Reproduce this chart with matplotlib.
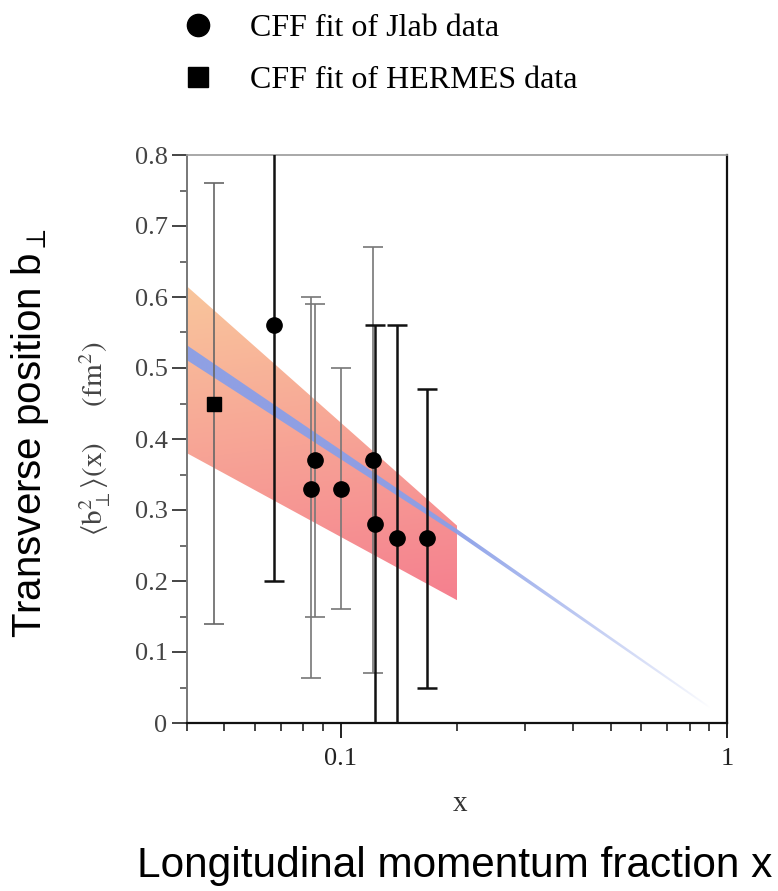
import numpy as np
import matplotlib
matplotlib.use('Agg')
import matplotlib.pyplot as plt
from matplotlib.lines import Line2D
from matplotlib.patches import Polygon
from matplotlib.colors import to_rgb
from matplotlib.ticker import MultipleLocator, FuncFormatter, LogLocator, NullFormatter, FixedLocator

# ---------------- data ----------------
jlab_x = [0.067, 0.084, 0.086, 0.100, 0.121, 0.123, 0.140, 0.167]
jlab_y = [0.56, 0.33, 0.37, 0.33, 0.37, 0.28, 0.26, 0.26]
jlab_lo = [0.20, 0.063, 0.15, 0.16, 0.07, -0.05, -0.05, 0.05]
jlab_hi = [0.85, 0.60, 0.59, 0.50, 0.67, 0.56, 0.56, 0.47]
jlab_dark = [True, False, False, False, False, True, True, True]

hermes_x = [0.047]
hermes_y = [0.45]
hermes_lo = [0.14]
hermes_hi = [0.76]

band_x = [0.04, 0.20]
band_lo = [0.38, 0.173]
band_hi = [0.615, 0.278]

fit_x = [0.04, 0.20, 0.90]
fit_lo = [0.511, 0.266, 0.021]
fit_hi = [0.532, 0.273, 0.024]

y_ticks = [0, 0.1, 0.2, 0.3, 0.4, 0.5, 0.6, 0.7, 0.8]
x_ticks = [0.1, 1]
x_ticklabels = ['0.1', '1']

legend_labels = ['CFF fit of Jlab data', 'CFF fit of HERMES data']

# ---------------- style ----------------
plt.rcParams['mathtext.fontset'] = 'stix'
SERIF = ['Liberation Serif', 'DejaVu Serif']
SANS = ['Liberation Sans', 'DejaVu Sans']

W, H = 778, 891
fig = plt.figure(figsize=(W / 100, H / 100), dpi=100)
L, R, T, B = 187, 727, 155, 723
ax = fig.add_axes([L / W, 1 - B / H, (R - L) / W, (B - T) / H])

ax.set_xscale('log')
ax.set_xlim(0.04, 1.0)
ax.set_ylim(0, 0.8)
ax.set_autoscale_on(False)

# ---------- orange/pink uncertainty band (gradient) ----------
verts = [(band_x[0], band_lo[0]), (band_x[1], band_lo[1]),
         (band_x[1], band_hi[1]), (band_x[0], band_hi[0])]
band_poly = Polygon(verts, closed=True, facecolor='none', edgecolor='none',
                    transform=ax.transData)
ax.add_patch(band_poly)
ny, nx = 300, 300
yy, xx = np.mgrid[0:1:ny * 1j, 0:1:nx * 1j]
c_top = np.array(to_rgb('#F9C69C'))
c_bot = np.array(to_rgb('#F5808F'))
t = np.clip((0.77 - yy) / 0.55 * 0.9 + xx * 0.2, 0, 1)[..., None]
rgb = c_top * (1 - t) + c_bot * t
img = np.concatenate([rgb, np.ones((ny, nx, 1))], axis=2)
im = ax.imshow(img, extent=[0, 1, 0, 1], transform=ax.transAxes, origin='lower',
               aspect='auto', interpolation='bilinear', zorder=1)
im.set_clip_path(band_poly)

# ---------- blue fit band with fading ----------
fverts = [(x, y) for x, y in zip(fit_x, fit_lo)] + [(x, y) for x, y in zip(fit_x[::-1], fit_hi[::-1])]
fit_poly = Polygon(fverts, closed=True, facecolor='none', edgecolor='none',
                   transform=ax.transData)
ax.add_patch(fit_poly)
c_blue = np.array(to_rgb('#8A9FE8'))
xf = np.linspace(0, 1, 600)
alpha = np.clip(1 - (xf - 0.5) / 0.47, 0, 1) ** 0.8 * 0.95
bimg = np.zeros((2, 600, 4))
bimg[..., :3] = c_blue
bimg[..., 3] = alpha[None, :]
bim = ax.imshow(bimg, extent=[0, 1, 0, 1], transform=ax.transAxes, origin='lower',
                aspect='auto', interpolation='bilinear', zorder=2)
bim.set_clip_path(fit_poly)

ax.set_xlim(0.04, 1.0)
ax.set_ylim(0, 0.8)

# ---------- error bars ----------
for x, y, lo, hi, dark in zip(jlab_x, jlab_y, jlab_lo, jlab_hi, jlab_dark):
    col = '#111111' if dark else '#777777'
    lw = 1.8 if dark else 1.2
    ax.errorbar([x], [y], yerr=[[y - lo], [hi - y]], fmt='none', ecolor=col,
                elinewidth=lw, capsize=7, capthick=lw, zorder=3)
for x, y, lo, hi in zip(hermes_x, hermes_y, hermes_lo, hermes_hi):
    ax.errorbar([x], [y], yerr=[[y - lo], [hi - y]], fmt='none', ecolor='#666666',
                elinewidth=1.2, capsize=7, capthick=1.2, zorder=3)

ax.plot(jlab_x, jlab_y, 'o', color='black', markersize=11, zorder=4, linestyle='none')
ax.plot(hermes_x, hermes_y, 's', color='black', markersize=10.5, zorder=4, linestyle='none')

# ---------- axes styling ----------
ax.yaxis.set_major_locator(FixedLocator(y_ticks))
ax.yaxis.set_minor_locator(MultipleLocator(0.05))
ax.yaxis.set_major_formatter(FuncFormatter(lambda v, p: '0' if abs(v) < 1e-9 else f'{v:.1f}'))
ax.xaxis.set_major_locator(FixedLocator(x_ticks))
ax.set_xticklabels(x_ticklabels)
ax.xaxis.set_minor_locator(LogLocator(base=10, subs=np.arange(2, 10), numticks=20))
ax.xaxis.set_minor_formatter(NullFormatter())

ax.tick_params(axis='y', which='major', direction='out', length=11, width=1.4,
               color='#444444', labelcolor='#444444', pad=3, labelsize=19)
ax.tick_params(axis='y', which='minor', direction='out', length=5, width=1.2, color='#555555')
ax.tick_params(axis='x', which='major', direction='out', length=11, width=1.4,
               color='#222222', labelcolor='#222222', pad=7, labelsize=19)
ax.tick_params(axis='x', which='minor', direction='out', length=6, width=1.2, color='#222222')
for lab in ax.get_xticklabels() + ax.get_yticklabels():
    lab.set_fontfamily(SERIF)

ax.spines['left'].set_color('#777777')
ax.spines['left'].set_linewidth(1.4)
ax.spines['top'].set_color('#999999')
ax.spines['top'].set_linewidth(1.2)
ax.spines['bottom'].set_color('#111111')
ax.spines['bottom'].set_linewidth(1.6)
ax.spines['right'].set_color('#111111')
ax.spines['right'].set_linewidth(1.6)

# inner axis labels
ax.set_xlabel('x', fontsize=21, family=SERIF, color='#333333')
ax.xaxis.set_label_coords((460 - L) / (R - L), (B - 804) / (B - T))
ax.xaxis.label.set_va('center')
ax.set_ylabel(r'$\langle\mathrm{b}_\perp^2\rangle(\mathrm{x})$' + '     ' + r'$(\mathrm{fm}^2)$',
              fontsize=21, family=SERIF, color='#444444')
ax.yaxis.set_label_coords((95 - L) / (R - L), (B - 439) / (B - T))
ax.yaxis.label.set_va('center')

# outer labels
fig.text(30 / W, 1 - 433 / H, r'Transverse position b$_\perp$', rotation=90,
         fontsize=29, family=SANS, ha='center', va='center', color='black')
fig.text(455 / W, 1 - 866 / H, 'Longitudinal momentum fraction x',
         fontsize=30.5, family=SANS, ha='center', va='center', color='black')

# legend (manual)
fig.add_artist(Line2D([198 / W], [1 - 25 / H], marker='o', markersize=16, color='black',
                      linestyle='none', transform=fig.transFigure))
fig.add_artist(Line2D([198 / W], [1 - 77 / H], marker='s', markersize=15, color='black',
                      linestyle='none', transform=fig.transFigure))
fig.text(250 / W, 1 - 25 / H, legend_labels[0], fontsize=23, family=SERIF,
         ha='left', va='center_baseline')
fig.text(250 / W, 1 - 77 / H, legend_labels[1], fontsize=23, family=SERIF,
         ha='left', va='center_baseline')

fig.savefig('out.png', dpi=100)
